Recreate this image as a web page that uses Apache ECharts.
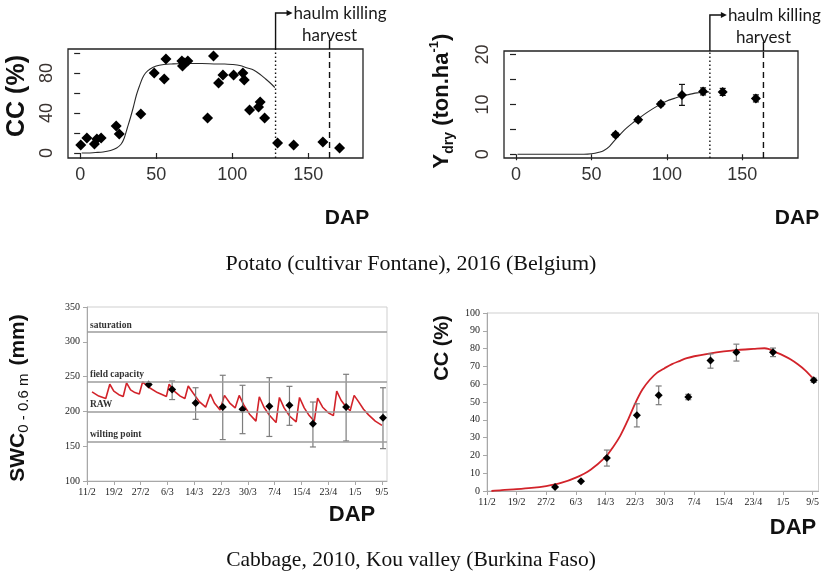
<!DOCTYPE html>
<html>
<head>
<meta charset="utf-8">
<script src="https://cdn.jsdelivr.net/npm/echarts@6/dist/echarts.min.js"></script>
<style>
  html, body { margin: 0; padding: 0; background: #fff; }
  #chart { width: 822px; height: 572px; }
</style>
</head>
<body>
<div id="chart"></div>
<script>
// ---------- Potato (cultivar Fontane), 2016 ----------
// Canopy cover observations
const potatoCcDap = [0.4, 4.4, 9.4, 11, 13.8, 23.7, 25.7, 39.9, 48.7, 55.3, 56.4, 66.9, 67.3, 68.4, 70.8,
  83.8, 87.7, 91, 93.9, 100.9, 107, 107.9, 111.4, 117.3, 118.4, 121.3, 129.8, 140.4, 159.6, 170.6];
const potatoCcObs = [8, 15, 9, 14, 15, 27, 19, 39, 80, 74, 94, 92, 87, 90, 92,
  35, 97, 70, 78, 78, 80, 73, 43, 46, 51, 35, 10, 8, 11, 5];
// Simulated canopy cover
const potatoSimDap = [1, 5, 10, 15, 20, 24, 27, 29, 31, 33, 35, 37, 39, 41, 43, 46, 50, 55, 60, 70, 80, 90, 95,
  100, 105, 110, 114, 118, 122, 125, 128];
const potatoSimCc = [0, 0, 0.5, 1, 2.5, 5, 9, 15, 25, 35, 46, 58, 67, 75, 80, 84, 87, 88.5, 89, 89.5, 89.5, 89, 89,
  88.5, 87.5, 85, 83, 79, 74, 70, 65.5];
// Dry tuber yield observations (ton/ha) with min/max
const yieldDap = [66, 81, 96, 110, 124, 137, 159];
const yieldObs = [3.9, 6.9, 10.1, 11.9, 12.6, 12.5, 11.2];
const yieldLow = [3.5, 6.5, 9.7, 9.8, 11.9, 11.8, 10.5];
const yieldHigh = [4.3, 7.3, 10.5, 14.0, 13.3, 13.2, 11.9];
// Simulated dry yield
const yieldSimDap = [1, 20, 45, 50, 55, 58, 62, 66, 70, 73, 77, 81, 85, 90, 95, 100, 105, 110, 115, 120, 124, 128];
const yieldSim = [0, 0, 0, 0.1, 0.4, 0.7, 1.6, 3.0, 4.3, 5.2, 6.2, 7.1, 8.0, 9.0, 9.9, 10.7, 11.2, 11.7, 12.0, 12.3, 12.4, 12.5];
// Field operations (DAP)
const eventDap = [128.5, 164];
const eventLabels = ['haulm killing', 'harvest'];

// ---------- Cabbage, 2010, Kou valley ----------
const dateDays = [0, 8, 16, 24, 32, 40, 48, 56, 64, 72, 80, 88];
const dateLabels = ['11/2', '19/2', '27/2', '6/3', '14/3', '22/3', '30/3', '7/4', '15/4', '23/4', '1/5', '9/5'];
// Soil water content thresholds (mm)
const swcLevelNames = ['saturation', 'field capacity', 'RAW', 'wilting point'];
const swcLevelValues = [314, 243, 200, 157];
// Simulated soil water content (day index, mm)
const swcSimDay = [1.5, 3.5, 5.6, 6.8, 8, 9.5, 10.8, 11.8, 13, 14.3, 15.6, 16.6, 18.3, 21, 23.7,
  24.5, 26.2, 27.8, 29.2, 30.2, 31.7, 33.5, 35.4, 36.8, 38, 39.7, 41, 42.6, 44.2,
  45.4, 46.8, 48.5, 50.4, 51.4, 52.8, 54.5, 56.4, 57.4, 58.8, 60.5, 62.4, 63.4, 64.8, 66.3, 67.8,
  68.8, 70.3, 72, 73.5, 74.5, 75.8, 77.2, 78.5, 79.7, 81, 82.5, 84, 86, 88];
const swcSim = [228, 222, 218.5, 239, 229, 224, 221.5, 241, 231, 227, 225, 242.5, 235, 227, 221.5,
  239, 228.5, 222, 218.5, 236.5, 226, 214, 206, 225, 212, 202, 223, 212, 205,
  223, 209, 196, 186, 221, 206, 194, 184, 220, 205, 193, 185, 220, 205, 194, 186,
  219, 206, 198, 194, 229, 216, 207, 201, 223, 214, 203, 195, 186, 180];
// Observation days shared by SWC and CC measurements
const obsDay = [18.4, 25.4, 32.4, 40.5, 46.4, 54.4, 60.4, 67.4, 77.3, 88.3];
const swcObs = [238.5, 231.3, 212, 206.3, 203, 207.3, 208.8, 182.4, 206.3, 191];
const swcLow = [238.5, 217, 188.6, 159.5, 168, 164, 180, 148.9, 157.5, 146.5];
const swcHigh = [238.5, 243.7, 234, 251.9, 237.5, 248.5, 236, 213.5, 253.3, 234];
const cabbageCcObs = [2.3, 5.5, 18.6, 42.5, 53.8, 52.8, 73.3, 78, 78, 62.2];
const cabbageCcLow = [2.3, 5.5, 14, 36, 48.5, 51.3, 69, 73, 75.5, 61];
const cabbageCcHigh = [2.3, 5.5, 23, 49, 59, 54.3, 77, 82.5, 80.3, 63.4];
// Simulated cabbage canopy cover
const cabbageSimDay = [1.2, 4, 8, 12, 16, 20, 24, 28, 32, 34, 36, 38, 40, 42, 44, 46, 48, 50, 52, 54, 56,
  60, 64, 68, 72, 75, 76, 78, 80, 82, 84, 86, 88];
const cabbageSimCc = [0, 0.5, 1, 1.7, 2.8, 4.5, 7.5, 12, 19, 24.5, 31, 39.5, 49, 57, 62.5, 66.5, 69, 71.3, 73, 74.6, 75.7,
  77.2, 78.4, 79.3, 79.8, 80.2, 79.8, 78, 76.2, 74, 71.2, 67.8, 63.5];

const zip = (a, b) => a.map((v, i) => [v, b[i]]);
const zip3 = (a, b, c) => a.map((v, i) => [v, b[i], c[i]]);

const SANS_N = "'Liberation Sans Narrow', 'Arial Narrow', 'Liberation Sans', Arial, sans-serif";
const SANS = "'Liberation Sans', Arial, sans-serif";
const SERIF = "'Liberation Serif', 'Times New Roman', serif";

// Vertical error bar with caps
function errorBar(color, capHalf, width) {
  return function (params, api) {
    const x = api.value(0);
    const lo = api.coord([x, api.value(1)]);
    const hi = api.coord([x, api.value(2)]);
    const st = { stroke: color, lineWidth: width };
    return {
      type: 'group',
      children: [
        { type: 'line', shape: { x1: lo[0], y1: lo[1], x2: hi[0], y2: hi[1] }, style: st },
        { type: 'line', shape: { x1: lo[0] - capHalf, y1: lo[1], x2: lo[0] + capHalf, y2: lo[1] }, style: st },
        { type: 'line', shape: { x1: hi[0] - capHalf, y1: hi[1], x2: hi[0] + capHalf, y2: hi[1] }, style: st }
      ]
    };
  };
}

// Haulm killing / harvest markers, extended above the plot frame
function eventMarker(params, api) {
  const cs = params.coordSys;
  const kind = api.value(1);
  const x = api.coord([api.value(0), 0])[0];
  const top = cs.y, bottom = cs.y + cs.height;
  const ink = '#111';
  const children = [{
    type: 'line',
    shape: { x1: x, y1: bottom, x2: x, y2: top },
    style: { stroke: ink, lineWidth: 1.4, lineDash: kind === 0 ? [1.5, 2.5] : [6, 4] }
  }];
  if (kind === 0) {
    children.push({ type: 'polyline', shape: { points: [[x, top], [x, top - 36], [x + 12, top - 36]] },
      style: { stroke: ink, lineWidth: 1.4, fill: null } });
    children.push({ type: 'polygon', shape: { points: [[x + 11, top - 39], [x + 17, top - 36], [x + 11, top - 33]] },
      style: { fill: ink } });
    children.push({ type: 'text', x: x + 18, y: top - 35,
      style: { text: eventLabels[0], fontFamily: 'Lato, sans-serif', fontSize: 17, fill: '#1a1a1a',
        align: 'left', verticalAlign: 'middle' } });
  } else {
    children.push({ type: 'line', shape: { x1: x, y1: top, x2: x, y2: top - 9 },
      style: { stroke: ink, lineWidth: 1.4 } });
    children.push({ type: 'text', x: x, y: top - 5,
      style: { text: eventLabels[1], fontFamily: 'Lato, sans-serif', fontSize: 17, fill: '#1a1a1a',
        align: 'center', verticalAlign: 'bottom' } });
  }
  return { type: 'group', children };
}

const topXAxis = (grid, min, max) => ({
  type: 'value', gridIndex: grid, min, max,
  axisLine: { show: false }, splitLine: { show: false },
  axisTick: { show: true, customValues: [0, 50, 100, 150], length: 6, lineStyle: { color: '#222', width: 1.2 } },
  axisLabel: { customValues: [0, 50, 100, 150], margin: 8, fontSize: 18, fontFamily: SANS_N, color: '#333' }
});
const topYAxis = (grid, min, max, ticks, labels) => ({
  type: 'value', gridIndex: grid, min, max,
  axisLine: { show: false }, splitLine: { show: false },
  axisTick: { show: true, customValues: ticks, length: 6, lineStyle: { color: '#222', width: 1.2 } },
  axisLabel: { customValues: labels, rotate: 90, margin: 12, fontSize: 18, fontFamily: SANS_N, color: '#3a3330' }
});
const dateXAxis = (grid, max) => ({
  type: 'value', gridIndex: grid, min: 0, max,
  axisLine: { show: true, lineStyle: { color: '#a8a8a8', width: 1 } },
  splitLine: { show: false },
  axisTick: { show: true, customValues: dateDays, length: 4, lineStyle: { color: '#a8a8a8' } },
  axisLabel: {
    customValues: dateDays, margin: 6, fontSize: 10, fontFamily: SERIF, color: '#222',
    formatter: v => dateLabels[dateDays.indexOf(Math.round(v))] || ''
  }
});
const excelYAxis = (grid, min, max, interval) => ({
  type: 'value', gridIndex: grid, min, max, interval,
  axisLine: { show: true, lineStyle: { color: '#a8a8a8', width: 1 } },
  splitLine: { show: false },
  axisTick: { show: true, length: 4, lineStyle: { color: '#a8a8a8' } },
  axisLabel: { margin: 7, fontSize: 10, fontFamily: SERIF, color: '#222' }
});

const titleText = (x, y, rotation, text, size, rich) => ({
  type: 'text', x, y, rotation,
  style: {
    text, fontFamily: SANS, fontSize: size, fontWeight: 'bold', fill: '#111',
    align: 'center', verticalAlign: 'middle', rich
  }
});

const option = {
  animation: false,
  backgroundColor: '#fff',
  title: [
    { text: 'Potato (cultivar Fontane), 2016 (Belgium)', left: 'center', top: 248,
      textStyle: { fontFamily: SERIF, fontSize: 22, fontWeight: 'normal', color: '#111' } },
    { text: 'Cabbage, 2010, Kou valley (Burkina Faso)', left: 'center', top: 544,
      textStyle: { fontFamily: SERIF, fontSize: 21.5, fontWeight: 'normal', color: '#111' } }
  ],
  grid: [
    { left: 68, top: 49, width: 295, height: 109, show: true, borderColor: '#222', borderWidth: 1.3 },
    { left: 504, top: 51, width: 294, height: 107, show: true, borderColor: '#222', borderWidth: 1.3 },
    { left: 87, top: 307, width: 300, height: 174, show: true, borderColor: '#cfcfcf', borderWidth: 1 },
    { left: 487, top: 313, width: 332, height: 178, show: true, borderColor: '#cfcfcf', borderWidth: 1 }
  ],
  xAxis: [
    topXAxis(0, -8, 186),
    topXAxis(1, -7.95, 186.9),
    dateXAxis(2, 89.5),
    dateXAxis(3, 89.6)
  ],
  yAxis: [
    topYAxis(0, -5, 104, [0, 20, 40, 60, 80, 100], [0, 40, 80]),
    topYAxis(1, -0.75, 20.7, [0, 5, 10, 15, 20], [0, 10, 20]),
    excelYAxis(2, 100, 350, 50),
    excelYAxis(3, 0, 100, 10)
  ],
  graphic: [
    titleText(17, 96, Math.PI / 2, 'CC (%)', 25),
    titleText(347, 218, 0, 'DAP', 21),
    titleText(442, 101, Math.PI / 2, '{b|Y}{s|dry}{b| (ton.ha}{p|-1}{b|)}', 22, {
      b: { fontFamily: SANS, fontSize: 22, fontWeight: 'bold', lineHeight: 28, fill: '#111' },
      s: { fontFamily: SANS, fontSize: 14, fontWeight: 'bold', lineHeight: 14, verticalAlign: 'bottom', fill: '#111' },
      p: { fontFamily: SANS, fontSize: 13, fontWeight: 'bold', lineHeight: 13, verticalAlign: 'top', fill: '#111' }
    }),
    titleText(797, 218, 0, 'DAP', 21),
    titleText(18, 398, Math.PI / 2, '{b|SWC}{s|0 - 0.6 m}{g| }{b|(mm)}', 22, {
      b: { fontFamily: SANS, fontSize: 21, fontWeight: 'bold', lineHeight: 26, fill: '#111' },
      s: { fontFamily: SANS, fontSize: 15, fontWeight: 'normal', lineHeight: 15, verticalAlign: 'bottom', fill: '#111' },
      g: { fontFamily: SANS, fontSize: 21, lineHeight: 26, width: 8 }
    }),
    titleText(352, 515, 0, 'DAP', 22),
    titleText(442, 348, Math.PI / 2, 'CC (%)', 20),
    titleText(793, 528, 0, 'DAP', 22)
  ],
  series: [
    // Potato canopy cover
    { type: 'line', xAxisIndex: 0, yAxisIndex: 0, data: zip(potatoSimDap, potatoSimCc), smooth: 0.3,
      showSymbol: false, lineStyle: { color: '#2a2a2a', width: 1.1 }, z: 2 },
    { type: 'scatter', xAxisIndex: 0, yAxisIndex: 0, data: zip(potatoCcDap, potatoCcObs),
      symbol: 'diamond', symbolSize: 11, itemStyle: { color: '#000', opacity: 1 }, z: 4 },
    { type: 'custom', xAxisIndex: 0, yAxisIndex: 0, renderItem: eventMarker, clip: false,
      data: eventDap.map((d, i) => [d, i]), encode: { x: 0, y: 1 }, silent: true, z: 3 },
    // Potato dry yield
    { type: 'line', xAxisIndex: 1, yAxisIndex: 1, data: zip(yieldSimDap, yieldSim), smooth: 0.3,
      showSymbol: false, lineStyle: { color: '#2a2a2a', width: 1.1 }, z: 2 },
    { type: 'custom', xAxisIndex: 1, yAxisIndex: 1, renderItem: errorBar('#111', 3, 1.2),
      data: zip3(yieldDap, yieldLow, yieldHigh), encode: { x: 0, y: [1, 2] }, z: 3 },
    { type: 'scatter', xAxisIndex: 1, yAxisIndex: 1, data: zip(yieldDap, yieldObs),
      symbol: 'diamond', symbolSize: 10, itemStyle: { color: '#000', opacity: 1 }, z: 4 },
    { type: 'custom', xAxisIndex: 1, yAxisIndex: 1, renderItem: eventMarker, clip: false,
      data: eventDap.map((d, i) => [d, i]), encode: { x: 0, y: 1 }, silent: true, z: 3 },
    // Cabbage soil water content
    { type: 'line', xAxisIndex: 2, yAxisIndex: 2, data: [], silent: true,
      markLine: {
        silent: true, symbol: 'none',
        lineStyle: { color: '#9c9c9c', width: 1.6, type: 'solid' },
        label: { show: true, position: 'insideStartTop', distance: [3, 2], formatter: '{b}',
          fontFamily: SERIF, fontSize: 9.5, fontWeight: 'bold', color: '#333' },
        data: swcLevelValues.map((v, i) => ({ yAxis: v, name: swcLevelNames[i] }))
      } },
    { type: 'line', xAxisIndex: 2, yAxisIndex: 2, data: zip(swcSimDay, swcSim), smooth: false,
      showSymbol: false, lineStyle: { color: '#d2232a', width: 1.6 }, z: 2 },
    { type: 'custom', xAxisIndex: 2, yAxisIndex: 2, renderItem: errorBar('#7d7d7d', 3, 1.2),
      data: zip3(obsDay, swcLow, swcHigh), encode: { x: 0, y: [1, 2] }, z: 3 },
    { type: 'scatter', xAxisIndex: 2, yAxisIndex: 2, data: zip(obsDay, swcObs),
      symbol: 'diamond', symbolSize: 8, itemStyle: { color: '#000', opacity: 1 }, z: 4 },
    // Cabbage canopy cover
    { type: 'line', xAxisIndex: 3, yAxisIndex: 3, data: zip(cabbageSimDay, cabbageSimCc), smooth: 0.3,
      showSymbol: false, lineStyle: { color: '#d2232a', width: 1.8 }, z: 2 },
    { type: 'custom', xAxisIndex: 3, yAxisIndex: 3, renderItem: errorBar('#7d7d7d', 3, 1.2),
      data: zip3(obsDay, cabbageCcLow, cabbageCcHigh), encode: { x: 0, y: [1, 2] }, z: 3 },
    { type: 'scatter', xAxisIndex: 3, yAxisIndex: 3, data: zip(obsDay, cabbageCcObs),
      symbol: 'diamond', symbolSize: 8, itemStyle: { color: '#000', opacity: 1 }, z: 4 }
  ]
};

const chart = echarts.init(document.getElementById('chart'), null, { renderer: 'canvas' });
chart.setOption(option);
</script>
</body>
</html>
